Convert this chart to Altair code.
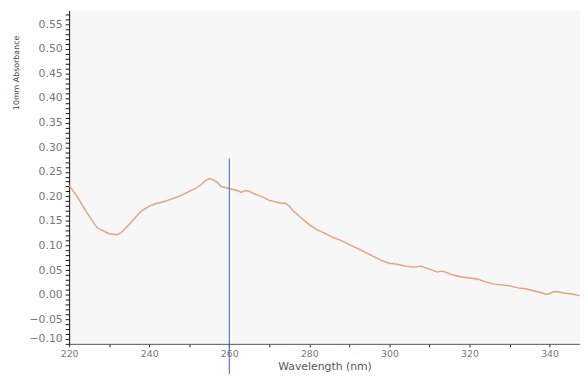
import altair as alt
import pandas as pd

wavelength = [220, 222, 224, 226, 227, 228, 230, 232, 233, 234, 236, 238, 240, 242, 244, 246, 248,
              250, 252, 253, 254, 255, 256, 257, 258, 259, 260, 262, 263, 264, 265, 266, 268, 270,
              272, 273, 274, 275, 276, 278, 280, 282, 284, 286, 288, 290, 292, 294, 296, 298, 300,
              302, 304, 306, 308, 310, 312, 313, 314, 316, 318, 320, 322, 324, 326, 328, 330, 332,
              334, 336, 338, 339, 340, 341, 342, 344, 346, 347.5]
absorbance = [0.222, 0.200, 0.172, 0.148, 0.136, 0.132, 0.124, 0.122, 0.126, 0.134, 0.152, 0.170,
              0.180, 0.186, 0.190, 0.196, 0.202, 0.210, 0.218, 0.224, 0.232, 0.236, 0.234, 0.228,
              0.220, 0.218, 0.216, 0.212, 0.208, 0.212, 0.210, 0.206, 0.200, 0.192, 0.188, 0.186,
              0.186, 0.180, 0.170, 0.156, 0.142, 0.132, 0.124, 0.116, 0.110, 0.102, 0.094, 0.086,
              0.078, 0.070, 0.064, 0.062, 0.058, 0.056, 0.058, 0.052, 0.046, 0.048, 0.046, 0.040,
              0.036, 0.034, 0.032, 0.026, 0.022, 0.020, 0.018, 0.014, 0.012, 0.008, 0.004, 0.001,
              0.002, 0.006, 0.006, 0.003, 0.001, -0.002]
cursor_nm = [260]

df = pd.DataFrame({"wl": wavelength, "abs": absorbance})
cur = pd.DataFrame({"wl": cursor_nm})

x_ticks = list(range(220, 350, 5))
y_ticks = [round(-0.10 + 0.01 * i, 2) for i in range(68)]

FONT = "DejaVu Sans"

xscale = alt.Scale(domain=[220, 347.6], nice=False, zero=False)
yscale = alt.Scale(domain=[-0.10, 0.578], nice=False, zero=False)

x_axis = alt.Axis(
    title="Wavelength (nm)", values=x_ticks,
    labelExpr="datum.value % 20 == 0 ? datum.label : ''",
    labelOverlap=False, labelFlush=False, grid=False,
    tickSize=3, tickColor="#222", domainColor="#555",
    labelFontSize=9.5, labelColor="#777", labelFont=FONT, labelPadding=2,
    titleFontSize=11, titleFontWeight="normal", titleColor="#555", titleFont=FONT,
    titlePadding=2,
)
y_axis = alt.Axis(
    title="10mm Absorbance", values=y_ticks,
    labelExpr="abs(round(datum.value*100)) % 5 == 0 ? format(datum.value, '.2f') : ''",
    labelOverlap=False, labelFlush=1, grid=False,
    tickSize=4, tickColor="#111", domainColor="#111",
    labelFontSize=11, labelColor="#777", labelFont=FONT, labelPadding=3,
    titleFontSize=8, titleFontWeight="normal", titleColor="#444", titleFont=FONT,
    titleAnchor="end", titleAlign="right", titleX=-49, titleY=25,
)

line = alt.Chart(df).mark_line(color="#e6a078", strokeWidth=1.4, clip=True).encode(
    x=alt.X("wl:Q", scale=xscale, axis=x_axis),
    y=alt.Y("abs:Q", scale=yscale, axis=y_axis),
)
rule = alt.Chart(cur).mark_rule(color="#3a66a3", strokeWidth=1, clip=False).encode(
    x=alt.X("wl:Q", scale=xscale),
    y=alt.value(150),
    y2=alt.value(372),
)

chart = alt.layer(line, rule).properties(
    width=518, height=338,
    autosize=alt.AutoSizeParams(type="none"),
    padding={"left": 62, "top": 0, "right": 0, "bottom": 28},
    background="white",
).configure_view(fill="#f7f7f7", strokeWidth=0)

chart.save("out.html", embed_options={"renderer": "svg", "actions": False})
